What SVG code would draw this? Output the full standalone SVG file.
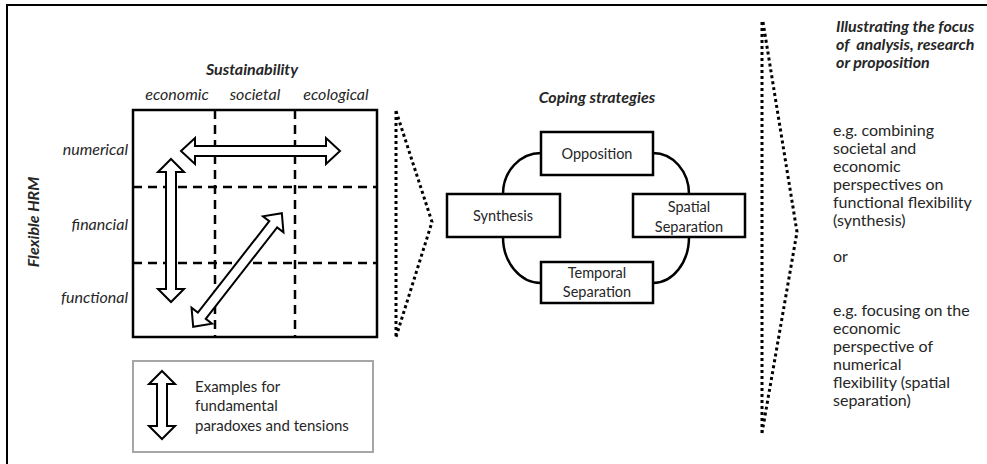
<svg xmlns="http://www.w3.org/2000/svg" width="987" height="464" viewBox="0 0 987 464">
<style>
.frame{fill:none;stroke:#000;stroke-width:2}
.grid{fill:none;stroke:#000;stroke-width:2.5}
.dash{stroke-dasharray:9 6}
.arrow{fill:#fff;stroke:#000;stroke-width:2;stroke-linejoin:miter}
.dot{fill:none;stroke:#000;stroke-width:3;stroke-dasharray:3 3}
.box{fill:#fff;stroke:#000;stroke-width:2.5}
.legend{fill:#fff;stroke:#a6a6a6;stroke-width:2}
.link{fill:none;stroke:#000;stroke-width:2.5}
text{font-family:Lato,"Liberation Sans",sans-serif;fill:#262626;font-size:16px}
.bi{font-weight:bold;font-style:italic}
.it{font-style:italic}
.c{text-anchor:middle}
.r{text-anchor:end}
.lg{font-size:15px}
.bx{font-size:14.5px}
</style>
<rect width="987" height="464" fill="#fff"/>
<path class="frame" d="M7,464 V5 H987"/>

<g id="grid">
<rect class="grid" x="133" y="110" width="244" height="227"/>
<path class="grid dash" d="M215,110 V337 M295,110 V337 M133,187 H377 M133,263 H377"/>
</g>

<g id="labels">
<text class="bi c" x="252" y="75">Sustainability</text>
<text class="it c" x="177" y="100">economic</text>
<text class="it c" x="255" y="100">societal</text>
<text class="it c" x="336" y="100">ecological</text>
<text class="it r" x="128" y="155">numerical</text>
<text class="it r" x="128" y="230">financial</text>
<text class="it r" x="128" y="303">functional</text>
<text class="bi c" font-size="15" transform="translate(39,222) rotate(-90)">Flexible HRM</text>
</g>

<g id="tensions">
<polygon class="arrow" points="181,151 195,138 195,146 326,146 326,138 340,151 326,164 326,156 195,156 195,164"/>
<polygon class="arrow" points="171,159 184,172 176,172 176,289 184,289 171,302 158,289 166,289 166,172 158,172"/>
<polygon class="arrow" transform="translate(237.5,270) rotate(-52)" points="-72,0 -58,-13 -58,-5 58,-5 58,-13 72,0 58,13 58,5 -58,5 -58,13"/>
</g>

<g id="legend">
<rect class="legend" x="133" y="361" width="240" height="91"/>
<polygon class="arrow" points="162,371 175,384 167,384 167,426 175,426 162,439 149,426 157,426 157,384 149,384"/>
<text class="lg" x="195" y="392">Examples for</text>
<text class="lg" x="195" y="411">fundamental</text>
<text class="lg" x="195" y="431">paradoxes and tensions</text>
</g>

<g id="chevron1">
<path class="dot" d="M396,111 V337 M396,111 L432,222 L396,337"/>
</g>

<g id="connectors">
<path class="link" d="M541,153 A38,41 0 0 0 503,194"/>
<path class="link" d="M653,153 A36,41 0 0 1 689,194"/>
<path class="link" d="M503,237 A38,46 0 0 0 541,283"/>
<path class="link" d="M689,237 A36,46 0 0 1 653,283"/>
</g>

<text class="bi c" x="597" y="103">Coping strategies</text>

<g id="opposition">
<rect class="box" x="541" y="132" width="112" height="43"/>
<text class="c bx" x="597" y="159">Opposition</text>
</g>
<g id="synthesis">
<rect class="box" x="447" y="194" width="113" height="43"/>
<text class="c bx" x="503" y="221">Synthesis</text>
</g>
<g id="spatial">
<rect class="box" x="633" y="194" width="112" height="43"/>
<text class="c bx" x="689" y="212">Spatial</text>
<text class="c bx" x="689" y="232">Separation</text>
</g>
<g id="temporal">
<rect class="box" x="541" y="262" width="112" height="41"/>
<text class="c bx" x="597" y="278">Temporal</text>
<text class="c bx" x="597" y="297">Separation</text>
</g>

<g id="chevron2">
<path class="dot" d="M762,22 V433 M763,22 L797,232 L762,433"/>
</g>

<g id="focus">
<text class="bi" x="836" y="32">Illustrating the focus</text>
<text class="bi" x="836" y="50">of&#160; analysis, research</text>
<text class="bi" x="836" y="68">or proposition</text>
<text x="833" y="136">e.g. combining</text>
<text x="833" y="154">societal and</text>
<text x="833" y="172">economic</text>
<text x="833" y="190">perspectives on</text>
<text x="833" y="208">functional flexibility</text>
<text x="833" y="226">(synthesis)</text>
<text x="833" y="262">or</text>
<text x="833" y="316">e.g. focusing on the</text>
<text x="833" y="334">economic</text>
<text x="833" y="352">perspective of</text>
<text x="833" y="370">numerical</text>
<text x="833" y="388">flexibility (spatial</text>
<text x="833" y="406">separation)</text>
</g>
</svg>
